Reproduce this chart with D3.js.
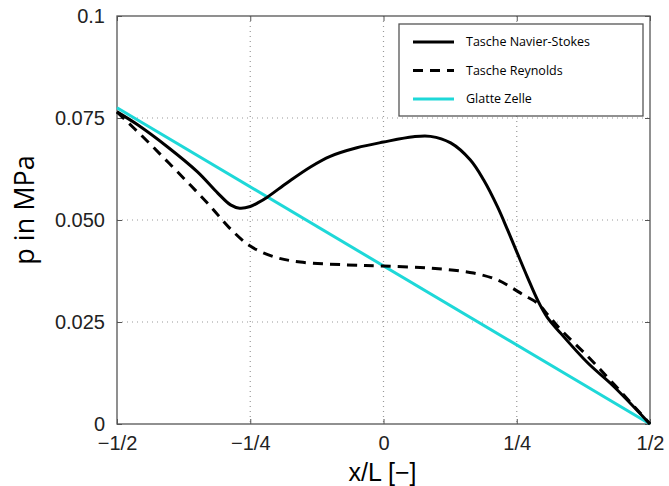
<!DOCTYPE html>
<html>
<head>
<meta charset="utf-8">
<script src="https://cdn.jsdelivr.net/npm/d3@7"></script>
<style>
  body { margin: 0; background: #fff; }
  .tick text { font-family: "Liberation Sans", Arial, sans-serif; }
</style>
</head>
<body>
<script>
// data
var nsX = [-0.5, -0.462, -0.405, -0.349, -0.311, -0.287, -0.27, -0.25, -0.236, -0.218, -0.18, -0.137, -0.1, -0.05, 0, 0.056, 0.088, 0.126, 0.163, 0.188, 0.214, 0.233, 0.251, 0.27, 0.289, 0.307, 0.332, 0.383, 0.432, 0.5];
var nsY = [0.0765, 0.0734, 0.0679, 0.0618, 0.0566, 0.0537, 0.0529, 0.0533, 0.0542, 0.0556, 0.0592, 0.0630, 0.0656, 0.0677, 0.0691, 0.0704, 0.0705, 0.0689, 0.0647, 0.0598, 0.0532, 0.0475, 0.0419, 0.0360, 0.0304, 0.0262, 0.0223, 0.0150, 0.0092, 0];
var reX = [-0.5, -0.443, -0.4, -0.362, -0.325, -0.29, -0.25, -0.206, -0.156, -0.068, 0, 0.088, 0.169, 0.214, 0.238, 0.263, 0.289, 0.31, 0.332, 0.383, 0.432, 0.5];
var reY = [0.0765, 0.0693, 0.0636, 0.0585, 0.0534, 0.0482, 0.0436, 0.0410, 0.0397, 0.0390, 0.0387, 0.0382, 0.0370, 0.0353, 0.0336, 0.0316, 0.0296, 0.0265, 0.0232, 0.0166, 0.0098, 0];
var glX = [-0.5, 0.5];
var glY = [0.0775, 0];

var xTicks = [-0.5, -0.25, 0, 0.25, 0.5];
var xLabels = ["\u22121/2", "\u22121/4", "0", "1/4", "1/2"];
var yTicks = [0, 0.025, 0.05, 0.075, 0.1];
var yLabels = ["0", "0.025", "0.050", "0.075", "0.1"];

var legendNames = ["Tasche Navier-Stokes", "Tasche Reynolds", "Glatte Zelle"];

var margin = {left: 117, top: 16, bottom: 62, right: 19},
    width = 669 - margin.left - margin.right,
    height = 486 - margin.top - margin.bottom;

var svg = d3.select("body").append("svg")
    .attr("width", 669)
    .attr("height", 486)
  .append("g")
    .attr("transform", "translate(" + margin.left + "," + margin.top + ")");

var x = d3.scaleLinear().domain([-0.5, 0.5]).range([0, width]);
var y = d3.scaleLinear().domain([0, 0.1]).range([height, 0]);

// dotted grid
svg.selectAll(".gx")
    .data(xTicks.slice(1, -1))
  .enter().append("line")
    .attr("x1", d => x(d)).attr("x2", d => x(d))
    .attr("y1", 0).attr("y2", height)
    .style("stroke", "#999").style("stroke-width", 1.2)
    .style("stroke-dasharray", "1,4");
svg.selectAll(".gy")
    .data(yTicks.slice(1, -1))
  .enter().append("line")
    .attr("y1", d => y(d)).attr("y2", d => y(d))
    .attr("x1", 0).attr("x2", width)
    .style("stroke", "#999").style("stroke-width", 1.2)
    .style("stroke-dasharray", "1,4");

// axes (ticks inside, like matlab)
var axisColor = "#555";
function styleAxis(g) {
  g.select(".domain").remove();
  g.selectAll(".tick line").style("stroke", axisColor);
  g.selectAll(".tick text").style("font-size", "20px").style("fill", "#222");
}
svg.append("g")
    .attr("transform", "translate(0," + height + ")")
    .call(d3.axisBottom(x).tickValues(xTicks).tickSizeInner(-5).tickPadding(12)
      .tickFormat((d, i) => xLabels[i]))
    .call(styleAxis);
svg.append("g")
    .call(d3.axisTop(x).tickValues(xTicks).tickSizeInner(-5).tickFormat(""))
    .call(styleAxis);
svg.append("g")
    .call(d3.axisLeft(y).tickValues(yTicks).tickSizeInner(-5).tickPadding(12)
      .tickFormat((d, i) => yLabels[i]))
    .call(styleAxis);
svg.append("g")
    .attr("transform", "translate(" + width + ",0)")
    .call(d3.axisRight(y).tickValues(yTicks).tickSizeInner(-5).tickFormat(""))
    .call(styleAxis);

svg.append("rect")
    .attr("width", width).attr("height", height)
    .style("fill", "none").style("stroke", axisColor).style("stroke-width", 1.3);

var line = d3.line()
    .x(d => x(d[0]))
    .y(d => y(d[1]))
    .curve(d3.curveCatmullRom.alpha(0.5));

var glatte = glX.map((v, i) => [v, glY[i]]);
var reynolds = reX.map((v, i) => [v, reY[i]]);
var navier = nsX.map((v, i) => [v, nsY[i]]);

var series = [
  {data: navier, color: "#000", dash: null},
  {data: reynolds, color: "#000", dash: "10,7"},
  {data: glatte, color: "#1ed8d8", dash: null}
];

svg.selectAll(".series")
    .data([series[2], series[1], series[0]])
  .enter().append("path")
    .attr("d", d => line(d.data))
    .style("fill", "none")
    .style("stroke", d => d.color)
    .style("stroke-width", 3)
    .style("stroke-dasharray", d => d.dash);

// legend
var legend = svg.append("g")
    .attr("transform", "translate(" + (399 - margin.left) + "," + (24 - margin.top) + ")");
legend.append("rect")
    .attr("width", 244).attr("height", 92)
    .style("fill", "#fff").style("stroke", axisColor).style("stroke-width", 1.3);
var rows = legend.selectAll(".lg")
    .data(series)
  .enter().append("g")
    .attr("transform", (d, i) => "translate(0," + (18 + i * 28.5) + ")");
rows.append("line")
    .attr("x1", 14).attr("x2", 55)
    .style("stroke", d => d.color)
    .style("stroke-width", 3)
    .style("stroke-dasharray", d => d.dash);
rows.append("text")
    .attr("x", 67).attr("dy", "0.35em")
    .style("font-family", "'Open Sans', sans-serif")
    .style("font-size", "12.5px")
    .text((d, i) => legendNames[i]);

// axis titles
svg.append("text")
    .attr("x", width / 2 - 1).attr("y", height + 57)
    .attr("text-anchor", "middle")
    .style("font-family", "'Liberation Sans', Arial, sans-serif")
    .style("font-size", "25px")
    .text("x/L [\u2212]");
svg.append("text")
    .attr("transform", "translate(" + (34 - margin.left) + "," + (210 - margin.top) + ") rotate(-90)")
    .attr("text-anchor", "middle")
    .style("font-family", "'Open Sans', sans-serif")
    .style("font-size", "27px")
    .text("p in MPa");
</script>
</body>
</html>
